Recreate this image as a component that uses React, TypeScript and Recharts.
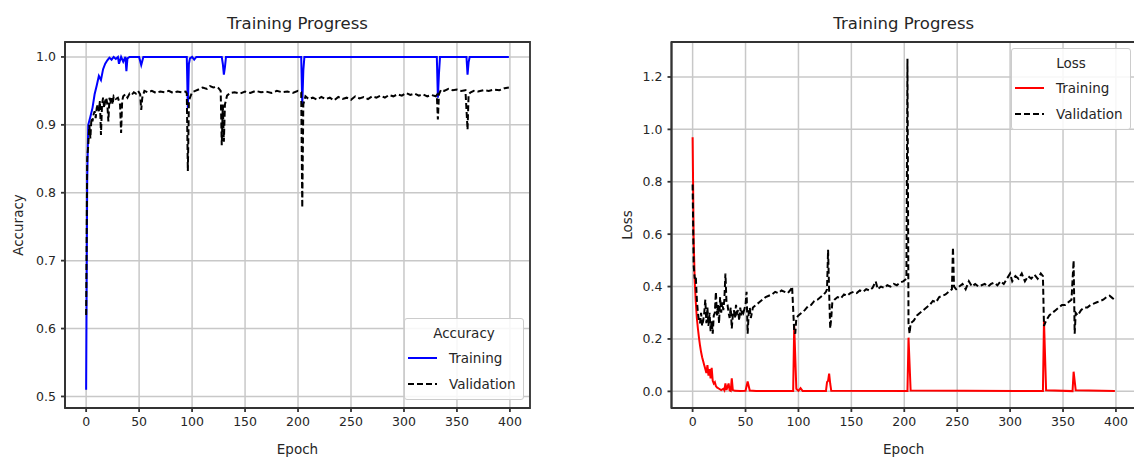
import { CartesianGrid, Legend, Line, LineChart, ReferenceArea, XAxis, YAxis } from "recharts";

type Pt = [number, number];

const EPOCH_TICKS = [0, 50, 100, 150, 200, 250, 300, 350, 400];
const ACC_TICKS = [0.5, 0.6, 0.7, 0.8, 0.9, 1.0];
const LOSS_TICKS = [0, 0.2, 0.4, 0.6, 0.8, 1.0, 1.2];

// [epoch, value]
const trainAcc: Pt[] = [
  [0, 0.51], [1, 0.82], [2, 0.9], [4, 0.912], [6, 0.925], [8, 0.945], [10, 0.958], [12, 0.972],
  [14, 0.966], [16, 0.982], [18, 0.99], [20, 0.995], [22, 0.999], [24, 0.996], [26, 1.0], [28, 0.997],
  [30, 1.0], [31, 0.99], [33, 1.0], [35, 0.993], [37, 1.0], [38, 0.979], [39, 0.998], [41, 1.0],
  [50, 1.0], [52, 0.988], [54, 1.0], [95, 1.0], [96, 0.925], [97, 0.99], [98, 0.998], [100, 1.0],
  [102, 0.996], [104, 1.0], [128, 1.0], [129, 0.99], [130, 0.974], [131, 0.985], [132, 1.0],
  [203, 1.0], [204, 0.93], [205, 0.98], [206, 1.0], [331, 1.0], [332, 0.94], [333, 0.975], [334, 1.0],
  [359, 1.0], [360, 0.974], [361, 0.992], [362, 1.0], [399, 1.0],
];

const valAcc: Pt[] = [
  [0, 0.62], [1, 0.85], [2, 0.87], [3, 0.9], [4, 0.88], [5, 0.91], [6, 0.905], [7, 0.915], [8, 0.92],
  [9, 0.91], [10, 0.925], [11, 0.93], [12, 0.92], [13, 0.935], [14, 0.885], [15, 0.93], [16, 0.94],
  [17, 0.925], [18, 0.935], [19, 0.94], [20, 0.93], [21, 0.905], [22, 0.94], [23, 0.935], [24, 0.94],
  [25, 0.93], [26, 0.942], [28, 0.938], [30, 0.94], [32, 0.93], [33, 0.888], [34, 0.935], [35, 0.942],
  [37, 0.945], [39, 0.94], [41, 0.946], [43, 0.944], [45, 0.948], [47, 0.946], [49, 0.95], [51, 0.945],
  [52, 0.922], [53, 0.94], [55, 0.95], [58, 0.948], [62, 0.95], [66, 0.947], [70, 0.949], [74, 0.948],
  [78, 0.95], [82, 0.947], [86, 0.949], [90, 0.948], [94, 0.949], [95, 0.946], [96, 0.832], [97, 0.935],
  [98, 0.94], [100, 0.948], [103, 0.95], [106, 0.952], [110, 0.955], [114, 0.953], [117, 0.957],
  [120, 0.955], [123, 0.956], [125, 0.954], [127, 0.95], [128, 0.87], [129, 0.93], [130, 0.875],
  [131, 0.93], [133, 0.943], [136, 0.947], [140, 0.948], [145, 0.946], [150, 0.949], [155, 0.947],
  [160, 0.95], [165, 0.948], [170, 0.949], [175, 0.947], [180, 0.95], [185, 0.948], [190, 0.949],
  [195, 0.947], [200, 0.95], [203, 0.948], [204, 0.778], [205, 0.93], [207, 0.942], [210, 0.938],
  [214, 0.94], [218, 0.937], [222, 0.941], [226, 0.938], [230, 0.94], [234, 0.936], [238, 0.941],
  [242, 0.938], [246, 0.94], [250, 0.937], [254, 0.942], [258, 0.939], [262, 0.941], [266, 0.938],
  [270, 0.942], [274, 0.94], [278, 0.943], [282, 0.94], [286, 0.944], [290, 0.942], [294, 0.945],
  [298, 0.943], [302, 0.947], [306, 0.944], [310, 0.946], [314, 0.943], [318, 0.945], [322, 0.942],
  [326, 0.944], [330, 0.942], [331, 0.944], [332, 0.908], [333, 0.945], [335, 0.952], [338, 0.95],
  [342, 0.953], [346, 0.951], [350, 0.952], [354, 0.95], [358, 0.951], [360, 0.893], [361, 0.945],
  [363, 0.948], [366, 0.95], [370, 0.949], [375, 0.951], [380, 0.95], [385, 0.952], [390, 0.951],
  [395, 0.954], [399, 0.955],
];

const trainLoss: Pt[] = [
  [0, 0.97], [1, 0.58], [2, 0.42], [3, 0.34], [4, 0.28], [5, 0.24], [6, 0.205], [7, 0.175], [8, 0.15],
  [9, 0.13], [10, 0.115], [11, 0.1], [12, 0.085], [13, 0.07], [14, 0.1], [15, 0.06], [16, 0.085],
  [17, 0.05], [18, 0.09], [19, 0.04], [20, 0.03], [21, 0.035], [22, 0.02], [23, 0.015], [25, 0.01],
  [27, 0.005], [29, 0.01], [30, 0.004], [31, 0.03], [32, 0.005], [34, 0.03], [35, 0.004], [36, 0.002],
  [37, 0.05], [38, 0.005], [40, 0.002], [45, 0.001], [50, 0.002], [52, 0.038], [54, 0.003], [60, 0.001],
  [95, 0.001], [96, 0.25], [98, 0.01], [100, 0.002], [102, 0.012], [104, 0.001], [126, 0.001],
  [127, 0.035], [128, 0.04], [129, 0.068], [130, 0.03], [131, 0.002], [203, 0.001], [204, 0.205],
  [206, 0.003], [331, 0.001], [332, 0.27], [334, 0.004], [359, 0.001], [360, 0.075], [362, 0.004],
  [399, 0.001],
];

const valLoss: Pt[] = [
  [0, 0.79], [1, 0.48], [2, 0.43], [3, 0.44], [4, 0.35], [5, 0.3], [6, 0.27], [7, 0.26], [8, 0.3],
  [9, 0.25], [10, 0.27], [11, 0.3], [12, 0.35], [13, 0.26], [14, 0.32], [15, 0.25], [16, 0.3],
  [17, 0.23], [18, 0.27], [19, 0.22], [20, 0.29], [21, 0.3], [22, 0.38], [23, 0.29], [24, 0.33],
  [25, 0.26], [26, 0.36], [27, 0.3], [28, 0.34], [29, 0.31], [30, 0.35], [31, 0.45], [32, 0.34],
  [33, 0.33], [34, 0.3], [35, 0.28], [36, 0.32], [37, 0.24], [38, 0.29], [39, 0.31], [40, 0.28],
  [41, 0.33], [42, 0.3], [43, 0.31], [44, 0.27], [45, 0.32], [46, 0.29], [47, 0.31], [48, 0.3],
  [50, 0.33], [51, 0.38], [52, 0.22], [53, 0.3], [54, 0.32], [55, 0.28], [57, 0.32], [60, 0.33],
  [63, 0.34], [66, 0.35], [69, 0.36], [72, 0.365], [75, 0.37], [78, 0.38], [81, 0.375], [84, 0.385],
  [87, 0.38], [90, 0.375], [93, 0.39], [94, 0.4], [96, 0.23], [97, 0.22], [98, 0.28], [100, 0.29],
  [103, 0.3], [106, 0.31], [109, 0.325], [112, 0.33], [115, 0.345], [118, 0.35], [121, 0.36],
  [124, 0.37], [126, 0.38], [127, 0.39], [128, 0.54], [129, 0.38], [130, 0.24], [131, 0.28],
  [132, 0.34], [134, 0.35], [137, 0.36], [140, 0.355], [143, 0.37], [146, 0.365], [149, 0.375],
  [152, 0.38], [155, 0.375], [158, 0.385], [161, 0.38], [164, 0.39], [167, 0.385], [170, 0.395],
  [173, 0.42], [175, 0.39], [178, 0.4], [181, 0.395], [184, 0.405], [187, 0.4], [190, 0.41],
  [193, 0.405], [196, 0.415], [199, 0.42], [202, 0.43], [203, 1.27], [204, 0.26], [205, 0.22],
  [206, 0.26], [209, 0.27], [212, 0.29], [215, 0.3], [218, 0.31], [221, 0.32], [224, 0.33],
  [227, 0.345], [230, 0.34], [233, 0.36], [236, 0.365], [239, 0.37], [242, 0.38], [245, 0.39],
  [246, 0.55], [247, 0.4], [249, 0.39], [252, 0.4], [255, 0.41], [258, 0.39], [261, 0.42], [264, 0.4],
  [267, 0.41], [270, 0.4], [273, 0.405], [276, 0.41], [279, 0.4], [282, 0.41], [285, 0.415],
  [288, 0.405], [291, 0.42], [294, 0.41], [297, 0.43], [300, 0.45], [302, 0.42], [305, 0.44],
  [308, 0.43], [311, 0.45], [314, 0.42], [317, 0.44], [320, 0.43], [323, 0.445], [326, 0.43],
  [329, 0.45], [331, 0.44], [332, 0.25], [334, 0.27], [337, 0.29], [340, 0.3], [343, 0.31],
  [346, 0.32], [349, 0.33], [352, 0.33], [355, 0.34], [358, 0.35], [360, 0.5], [361, 0.22],
  [362, 0.3], [364, 0.29], [367, 0.31], [370, 0.32], [373, 0.32], [376, 0.33], [379, 0.335],
  [382, 0.34], [385, 0.345], [388, 0.35], [391, 0.36], [394, 0.365], [397, 0.355], [399, 0.35],
];

const X_DOMAIN: [number, number] = [-19.95, 418.95];
const INK = "#262626";
const SPINE = "#333333";
const GRID = "#c8c8c8";
const FONT = "'DejaVu Sans', sans-serif";

type Series = { name: string; points: Pt[]; color: string; dashed?: boolean };

const rows = (pts: Pt[]) => pts.map(([e, v]) => ({ e, v }));

function LegendBox({ title, series }: { title: string; series: Series[] }) {
  return (
    <div
      style={{
        position: "relative",
        width: 120,
        height: 82,
        boxSizing: "border-box",
        background: "rgba(255,255,255,0.85)",
        border: "1px solid #cccccc",
        borderRadius: 3,
        fontFamily: FONT,
        fontSize: 13.5,
        color: INK,
      }}
    >
      <div style={{ position: "absolute", top: 4, width: "100%", textAlign: "center", lineHeight: "20px" }}>
        {title}
      </div>
      {series.map((s, i) => (
        <div key={s.name} style={{ position: "absolute", left: 0, top: 29 + i * 26, width: "100%", height: 20 }}>
          <svg width={32} height={20} style={{ position: "absolute", left: 3, top: 0 }}>
            <line
              x1={0}
              x2={29}
              y1={10}
              y2={10}
              stroke={s.color}
              strokeWidth={2}
              strokeDasharray={s.dashed ? "6 3" : undefined}
            />
          </svg>
          <span style={{ position: "absolute", left: 44, top: 0, lineHeight: "20px", whiteSpace: "nowrap" }}>
            {s.name}
          </span>
        </div>
      ))}
    </div>
  );
}

type PanelProps = {
  left: number;
  width: number;
  axisWidth: number;
  marginRight: number;
  yLabel: string;
  yLabelOffset: number;
  yDomain: [number, number];
  yTicks: number[];
  series: Series[];
  legendTitle: string;
  legendLeft: number;
  legendTop: number;
};

function Panel(p: PanelProps) {
  const height = 460;
  const plotW = p.width - p.axisWidth - p.marginRight;
  const spine = { stroke: SPINE, strokeWidth: 1.8 };
  return (
    <div style={{ position: "absolute", left: p.left, top: 0, width: p.width, height }}>
      <div
        style={{
          position: "absolute",
          left: p.axisWidth,
          top: 14,
          width: plotW,
          textAlign: "center",
          fontFamily: FONT,
          fontSize: 16.5,
          lineHeight: "20px",
          color: INK,
        }}
      >
        Training Progress
      </div>
      <LineChart
        width={p.width}
        height={height}
        margin={{ top: 42, right: p.marginRight, bottom: 0, left: 0 }}
        style={{ fontFamily: FONT }}
      >
        <CartesianGrid stroke={GRID} strokeWidth={1.5} />
        <XAxis
          dataKey="e"
          type="number"
          domain={X_DOMAIN}
          ticks={EPOCH_TICKS}
          height={52}
          tickSize={4}
          tickMargin={5}
          tick={{ fill: INK, fontSize: 12.5 }}
          tickLine={spine}
          axisLine={spine}
          allowDataOverflow
          label={{ value: "Epoch", position: "insideBottom", offset: 6, fill: INK, fontSize: 13.5 }}
        />
        <YAxis
          type="number"
          domain={p.yDomain}
          ticks={p.yTicks}
          width={p.axisWidth}
          tickSize={4}
          tickMargin={5}
          tick={{ fill: INK, fontSize: 12.5 }}
          tickLine={spine}
          axisLine={spine}
          tickFormatter={(v: number) => v.toFixed(1)}
          allowDataOverflow
          label={{
            value: p.yLabel,
            angle: -90,
            position: "insideLeft",
            offset: p.yLabelOffset,
            fill: INK,
            fontSize: 13.5,
            style: { textAnchor: "middle" },
          }}
        />
        {p.series.map((s) => (
          <Line
            key={s.name}
            data={rows(s.points)}
            dataKey="v"
            name={s.name}
            type="linear"
            stroke={s.color}
            strokeWidth={2}
            strokeDasharray={s.dashed ? "6 3" : undefined}
            dot={false}
            activeDot={false}
            isAnimationActive={false}
          />
        ))}
        <ReferenceArea
          x1={X_DOMAIN[0]}
          x2={X_DOMAIN[1]}
          y1={p.yDomain[0]}
          y2={p.yDomain[1]}
          fill="none"
          stroke={SPINE}
          strokeWidth={1.8}
          ifOverflow="visible"
        />
        <Legend
          layout="vertical"
          align="center"
          verticalAlign="middle"
          wrapperStyle={{ left: p.legendLeft, top: p.legendTop, width: 120 }}
          content={() => <LegendBox title={p.legendTitle} series={p.series} />}
        />
      </LineChart>
    </div>
  );
}

export default function App() {
  return (
    <div
      style={{
        position: "absolute",
        left: 0,
        top: 0,
        width: 1134,
        height: 460,
        overflow: "hidden",
        background: "#ffffff",
      }}
    >
      <Panel
        left={0}
        width={540}
        axisWidth={65}
        marginRight={10}
        yLabel="Accuracy"
        yLabelOffset={18}
        yDomain={[0.483, 1.022]}
        yTicks={ACC_TICKS}
        series={[
          { name: "Training", points: trainAcc, color: "#0000ff" },
          { name: "Validation", points: valAcc, color: "#000000", dashed: true },
        ]}
        legendTitle="Accuracy"
        legendLeft={404}
        legendTop={318}
      />
      <Panel
        left={600}
        width={540}
        axisWidth={71.5}
        marginRight={4}
        yLabel="Loss"
        yLabelOffset={27}
        yDomain={[-0.0635, 1.3335]}
        yTicks={LOSS_TICKS}
        series={[
          { name: "Training", points: trainLoss, color: "#ff0000" },
          { name: "Validation", points: valLoss, color: "#000000", dashed: true },
        ]}
        legendTitle="Loss"
        legendLeft={411}
        legendTop={48}
      />
    </div>
  );
}
